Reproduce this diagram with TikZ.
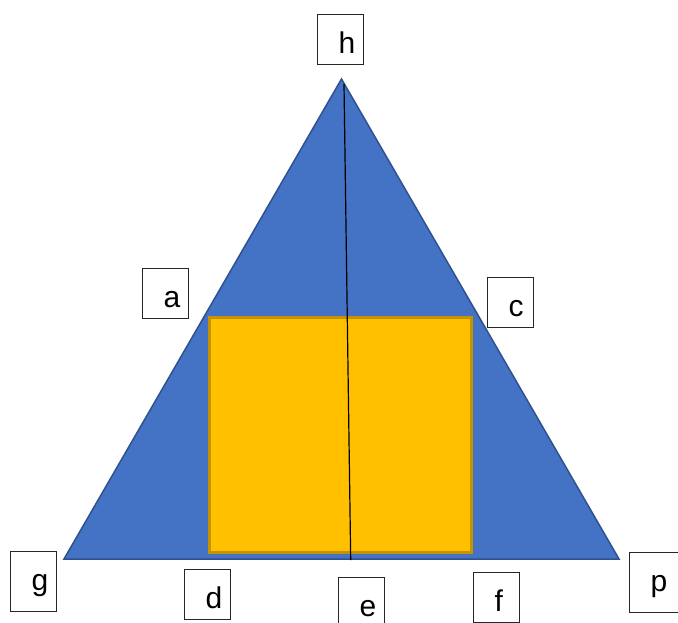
\documentclass[tikz,border=0pt]{standalone}
\usepackage{fontspec}
\setmainfont{Liberation Sans}
\usetikzlibrary{positioning, calc}
\definecolor{triblue}{HTML}{4472C4}
\definecolor{triedge}{HTML}{2F528F}
\definecolor{sqgold}{HTML}{FFC000}
\definecolor{sqedge}{HTML}{C39300}

\tikzset{
  lbox/.style={draw=black!85, line width=1.2pt, anchor=north west, inner sep=0pt,
    text width=#1, align=left, text height=39pt, text depth=11pt,
    font=\fontsize{30}{36}\selectfont, execute at begin node=\hspace*{21pt}},
  lbox/.default=46pt,
  tall/.style={text depth=21pt}
}

\begin{document}
\begin{tikzpicture}[x=1pt, y=-1pt]
  \useasboundingbox (0,0) rectangle (678,622);

  % Triangle
  \coordinate (top) at (341.5,79);
  \coordinate (left) at (64,559);
  \coordinate (right) at (619,559);
  \draw[fill=triblue, draw=triedge, line width=1.5pt, line join=miter] (top) -- (right) -- (left) -- cycle;

  % Inner square
  \draw[fill=sqgold, draw=sqedge, line width=3pt] (209.5,317.5) rectangle (471.5,552.5);

  % Height line
  \coordinate (htop) at (344,84);
  \coordinate (hbot) at (350.7,560);
  \draw[black, line width=1.2pt] (htop) -- (hbot);

  % Labels
  \node[lbox] (h) at (317,14) {h};
  \node[lbox] (a) at (142,268) {a};
  \node[lbox] (c) at (487,277) {c};
  \node[lbox, tall] (g) at (10,551) {g};
  \node[lbox] (d) at (184,569) {d};
  \node[lbox] (e) at (338,577) {e};
  \node[lbox] (f) at (473,572) {f};
  \node[lbox=54pt, tall] (p) at (629,552) {p};

\end{tikzpicture}
\end{document}
